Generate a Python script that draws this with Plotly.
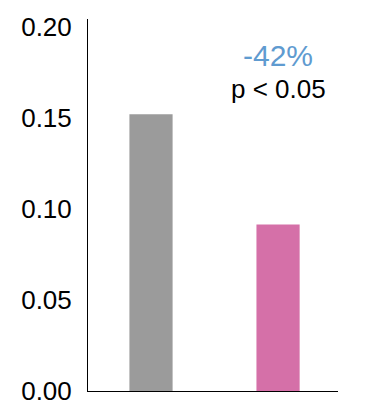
import plotly.graph_objects as go

categories = ["Control", "Treatment"]
values = [0.152, 0.0915]
bar_colors = ["#9b9b9b", "#d570a8"]
y_ticks = [0.00, 0.05, 0.10, 0.15, 0.20]
y_tick_labels = ["0.00", "0.05", "0.10", "0.15", "0.20"]
change_label = "-42%"
p_label = "p < 0.05"

fig = go.Figure(go.Bar(
    x=[0, 1], y=values, marker=dict(color=bar_colors, line=dict(width=0)),
    width=0.34, hoverinfo="skip"))

fig.update_layout(
    width=365, height=410,
    margin=dict(l=88, r=27, t=19, b=19),
    paper_bgcolor="white", plot_bgcolor="white",
    font=dict(family="Liberation Sans, Arial, sans-serif", color="black", size=25),
    showlegend=False,
    xaxis=dict(range=[-0.496, 1.472], showticklabels=False, ticks="",
               showline=True, linecolor="black", linewidth=1, showgrid=False, zeroline=False),
    yaxis=dict(range=[0, 0.2044], tickvals=y_ticks, ticktext=y_tick_labels, ticks="",
               showline=True, linecolor="black", linewidth=1, showgrid=False, zeroline=False,
               ticklabelstandoff=10, tickfont=dict(size=26), ticklabeloverflow="allow",
               automargin=False),
    annotations=[
        dict(x=1, y=0.1845, xref="x", yref="y", text=change_label, showarrow=False,
             font=dict(size=30, color="#5f9bd0"), xanchor="center", yanchor="middle"),
        dict(x=1, y=0.166, xref="x", yref="y", text=p_label, showarrow=False,
             font=dict(size=26, color="black"), xanchor="center", yanchor="middle"),
    ],
)

fig.write_html("out.html", config={"displayModeBar": False},
               post_script="document.body.style.margin='0';document.body.style.overflow='hidden';")
